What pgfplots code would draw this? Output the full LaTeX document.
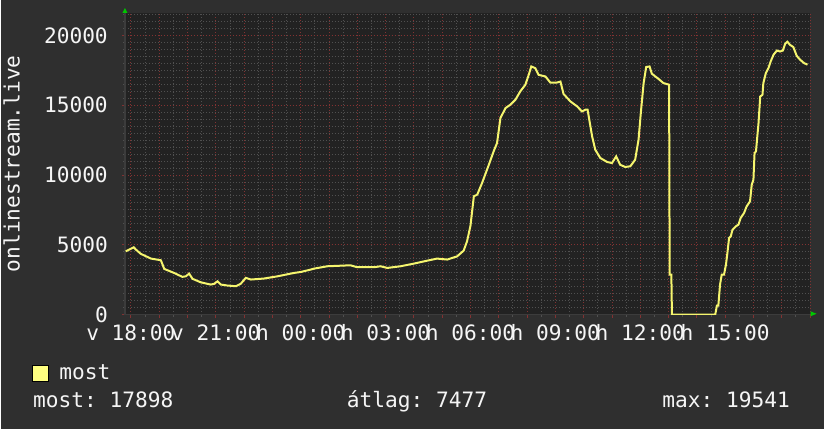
\documentclass[border=0pt]{standalone}
\usepackage{fontspec}
\setmainfont{DejaVu Sans Mono}
\usepackage{pgfplots}
\pgfplotsset{compat=1.18}

\definecolor{outerbg}{RGB}{47,47,47}
\definecolor{plotbg}{RGB}{34,34,34}
\definecolor{mgridcol}{RGB}{130,50,50}
\definecolor{gridcol}{RGB}{80,80,80}
\definecolor{linecol}{RGB}{245,245,110}
\definecolor{legyellow}{RGB}{255,255,128}
\definecolor{txt}{RGB}{245,245,245}
\definecolor{arrowgreen}{RGB}{0,200,0}
\definecolor{axisgray}{RGB}{60,60,60}

\newcommand\rf{\fontsize{21.2pt}{25pt}\selectfont}
\frenchspacing

\begin{document}
\begin{tikzpicture}[x=1pt,y=1pt]
\fill[outerbg] (0,0) rectangle (824,430);
\begin{axis}[
    at={(124pt,115pt)}, anchor=south west,
    scale only axis, width=686pt, height=302pt,
    xmin=-0.21, xmax=24.0,
    ymin=0, ymax=21600,
    axis background/.style={fill=plotbg},
    axis x line=bottom, axis y line=left,
    axis line style={-, draw=axisgray, line width=1.5pt},
    xtick={0,1,...,24},
    xticklabels={v 18:00,,,v 21:00,,,h 00:00,,,h 03:00,,,h 06:00,,,h 09:00,,,h 12:00,,,h 15:00},
    minor xtick={-0.5,0.5,...,23.5},
    ytick={0,5000,10000,15000,20000},
    minor ytick={500,1000,...,21500},
    scaled y ticks=false,
    grid=both,
    major grid style={mgridcol, line width=0.8pt, dash pattern=on 1pt off 2pt},
    minor grid style={gridcol, line width=0.8pt, dash pattern=on 1pt off 2pt},
    tick align=outside,
    major tick length=3pt, minor tick length=2pt,
    major tick style={mgridcol, line width=0.8pt},
    minor tick style={gridcol, line width=0.8pt},
    /pgf/number format/1000 sep={},
    /pgf/number format/assume math mode=true,
    every tick label/.append style={font=\rf, text=txt},
    yticklabel style={anchor=east, inner sep=0pt, xshift=-14pt},
    xticklabel style={anchor=north, inner sep=0pt, yshift=-7pt},
    ylabel={onlinestream.live},
    ylabel style={at={(axis description cs:0,0.5)}, anchor=center, yshift=113.5pt, font=\rf, text=txt},
    legend style={at={(axis description cs:-0.1354,-0.1659)}, anchor=north west,
        draw=none, fill=none, inner sep=0pt, outer sep=0pt, font=\rf, text=txt,
        nodes={inner sep=0pt}, column sep=10.5pt},
    legend image code/.code={\draw[black, fill=legyellow, line width=0.8pt] (0pt,-8pt) rectangle (16pt,8pt);},
    legend cell align=left,
]
\addplot[linecol, line width=2pt, sharp plot] coordinates {
(-0.18,4530) (0.10,4820) (0.18,4650) (0.35,4350) (0.71,4010) (1.06,3890)
(1.18,3270) (1.53,2980) (1.82,2700) (1.94,2740) (2.06,2930) (2.18,2560)
(2.47,2310) (2.82,2150) (2.94,2200) (3.06,2380) (3.18,2150) (3.41,2080)
(3.71,2030) (3.88,2200) (4.06,2630) (4.24,2510) (4.70,2580) (5.18,2740)
(5.76,2980) (6.00,3050) (6.35,3220) (6.47,3290) (6.94,3460) (7.76,3530)
(8.00,3390) (8.59,3390) (8.82,3460) (9.06,3340) (9.53,3460) (10.00,3650)
(10.47,3860) (10.82,4010) (11.18,3940) (11.53,4170) (11.76,4580) (11.88,5250)
(12.00,6350) (12.12,8470) (12.24,8590) (12.41,9420) (12.65,10730) (12.82,11690)
(12.94,12290) (13.06,14080) (13.24,14790) (13.41,15030) (13.59,15390) (13.76,15980)
(13.94,16460) (14.06,17170) (14.15,17770) (14.29,17650) (14.41,17170) (14.65,17050)
(14.82,16620) (15.06,16620) (15.18,16690) (15.29,15800) (15.53,15270) (15.77,14910)
(15.94,14550) (16.06,14670) (16.14,14670) (16.21,13830) (16.30,12760) (16.41,11810)
(16.59,11210) (16.83,10930) (17.00,10850) (17.15,11330) (17.29,10730) (17.47,10570)
(17.65,10620) (17.82,11090) (17.94,12520) (18.02,14430) (18.12,16580) (18.21,17730)
(18.33,17770) (18.41,17250) (18.65,16870) (18.82,16580) (19.02,16460) (19.04,2860)
(19.10,2860) (19.12,0) (20.65,0) (20.71,640) (20.76,640) (20.82,2150)
(20.88,2860) (20.96,2860) (21.03,3580) (21.08,4410) (21.14,5490) (21.20,5600)
(21.26,6080) (21.38,6320) (21.47,6440) (21.55,6920) (21.67,7280) (21.76,7750)
(21.88,8110) (21.94,9300) (22.00,9660) (22.04,11570) (22.09,11690) (22.18,13720)
(22.24,15620) (22.32,15740) (22.35,16580) (22.44,17300) (22.53,17650) (22.61,18130)
(22.71,18610) (22.83,18910) (22.94,18840) (23.04,18910) (23.12,19390) (23.20,19541)
(23.29,19320) (23.41,19160) (23.53,18530) (23.65,18250) (23.79,18010) (23.91,17898)
};
\addlegendentry{most}
\end{axis}
% axis arrows
\fill[arrowgreen] (121.5,417) -- (126.5,417) -- (124,422) -- cycle;
\fill[arrowgreen] (810.5,118.3) -- (810.5,113.3) -- (816.5,115.8) -- cycle;
% summary line
\begin{scope}[every node/.style={anchor=base west, inner sep=0pt, font=\rf, text=txt}]
\node at (32,21.5) {most: 17898};
\node at (346,21.5) {átlag: 7477};
\node at (662,21.5) {max: 19541};
\end{scope}
\end{tikzpicture}
\end{document}
